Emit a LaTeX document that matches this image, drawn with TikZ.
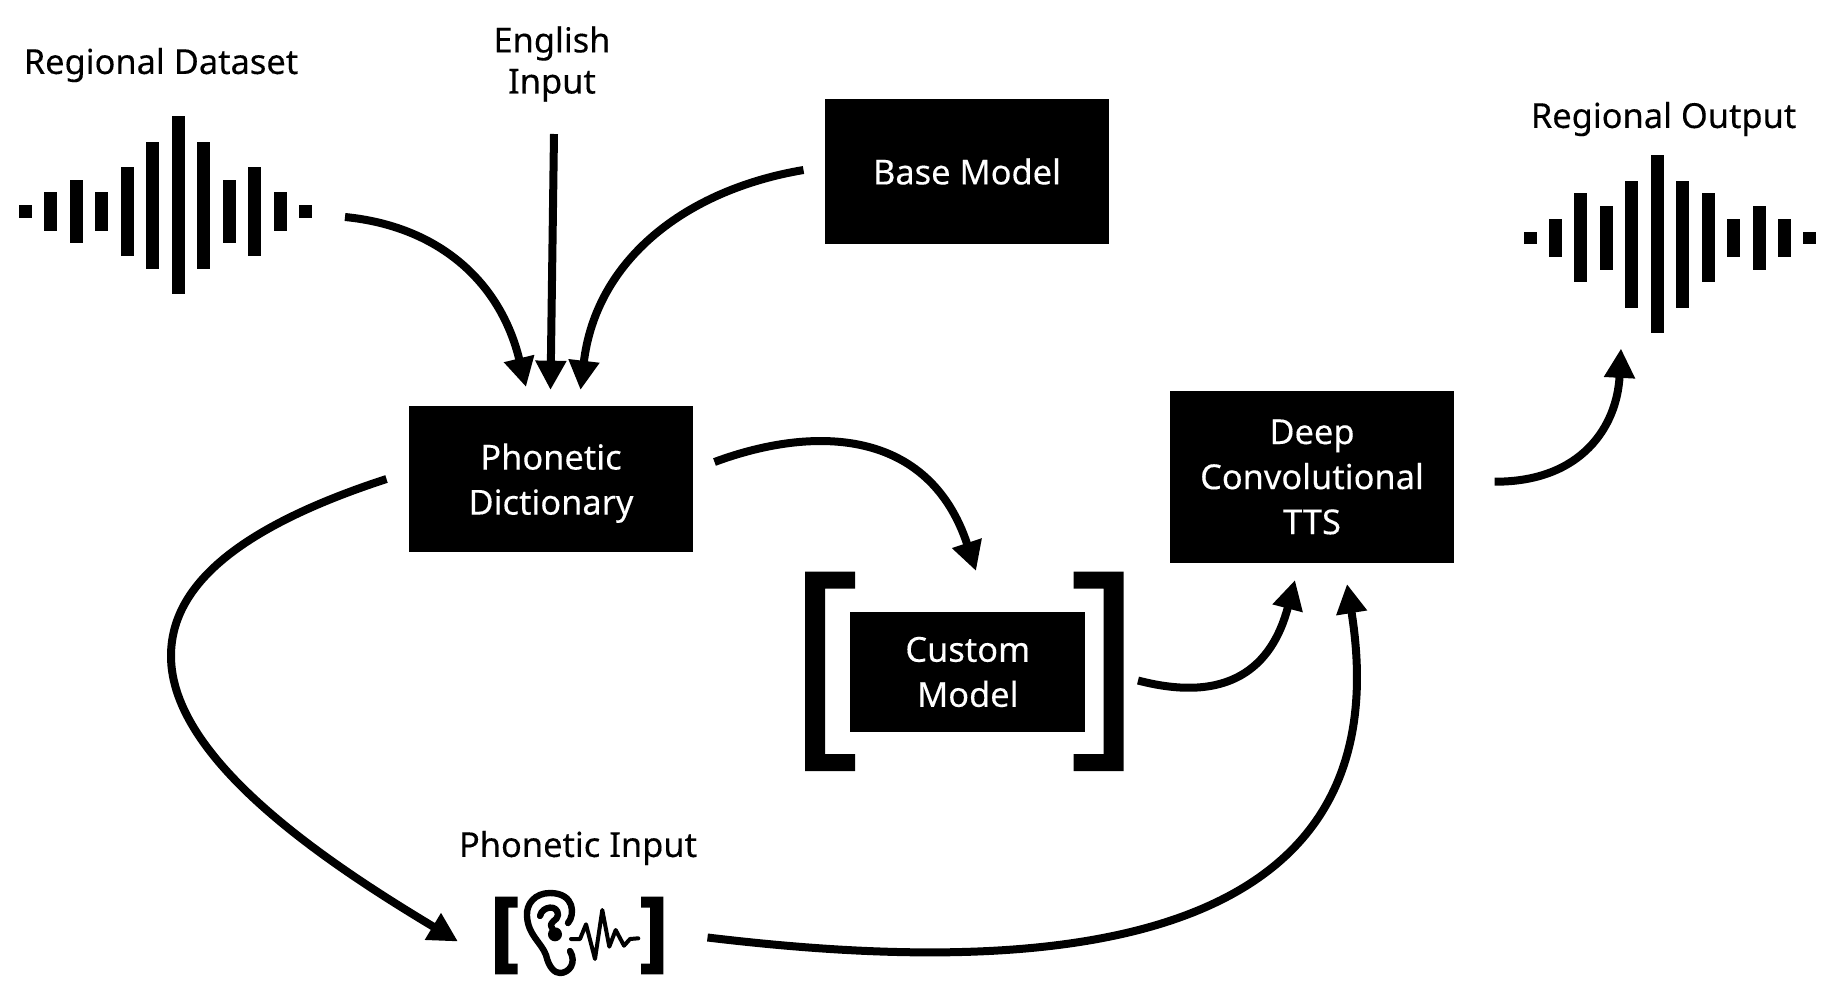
\documentclass[tikz,border=0pt]{standalone}
\usepackage{fontspec}
\setmainfont[FakeBold=0.25]{Noto Sans}
\usetikzlibrary{arrows.meta}
\newcommand{\lbl}{\fontsize{25.8}{33.8}\selectfont}
\tikzset{
  x=0.75pt,y=-0.75pt,
  box/.style={fill=black,text=white,inner sep=0pt,align=center,font=\lbl},
  lab/.style={text=black,inner sep=0pt,align=center,font=\lbl},
  conn/.style={line width=6pt,-{Triangle[length=22pt,width=22pt]}},
  earline/.style={line width=4.8pt,line cap=round,line join=round},
  pulse/.style={line width=3pt,line cap=round,line join=round},
}
\newcommand{\wavebars}[4]{% x0,pitch,width,top/bottom pairs
  \foreach \ya/\yb [count=\ii from 0] in {#4}{
    \fill ({#1+\ii*#2},\ya) rectangle ({#1+\ii*#2+#3},\yb);
  }}
\begin{document}
\begin{tikzpicture}
\useasboundingbox (0,0) rectangle (1828,1003);
\fill[white] (0,0) rectangle (1828,1003);
% boxes
\node[box,minimum width=213.5pt,minimum height=109pt] (base) at (967,171.5) {Base Model};
\node[box,minimum width=213pt,minimum height=109.5pt,text depth=0pt] (dict) at (551,479) {Phonetic\\Dictionary};
\node[box,minimum width=213.5pt,minimum height=129pt] (tts) at (1312,477) {Deep\\Convolutional\\TTS};
\node[box,minimum width=176pt,minimum height=90pt] (custom) at (967.8,672) {Custom\\Model};
% labels
\node[lab] (ds) at (161,65) {Regional Dataset};
\node[lab,font=\fontsize{25.8}{30.8}\selectfont] (en) at (552,64) {English\\Input};
\node[lab] (out) at (1663.6,119) {Regional Output};
\node[lab] (pi) at (578,848) {Phonetic Input};
% waveforms
\wavebars{19}{25.45}{13}{205.3/218.3,192.3/231,180/243.3,192.3/231,167/256.3,141.7/269,116.3/294.3,141.7/269,180/243.3,167/256.3,192.3/231,205.3/218.3}
\wavebars{1523.5}{25.45}{13}{231.7/244.3,219/257,193.3/282.3,206.3/269.7,180.7/308,155.3/333.3,180.7/308,193.3/282.3,219/257,206.3/269.7,219/257,231.7/244.3}
% custom model brackets
\fill (805,571.7) -- (855,571.7) -- (855,588.5) -- (825,588.5) -- (825,754) -- (855,754) -- (855,771) -- (805,771) -- cycle;
\fill (1123.5,571.7) -- (1073.5,571.7) -- (1073.5,588.5) -- (1103.5,588.5) -- (1103.5,754) -- (1073.5,754) -- (1073.5,771) -- (1123.5,771) -- cycle;
% icon brackets
\fill (495,896.7) -- (517.7,896.7) -- (517.7,907.5) -- (508.3,907.5) -- (508.3,963.5) -- (517.7,963.5) -- (517.7,974.3) -- (495,974.3) -- cycle;
\fill (663.3,896.7) -- (641,896.7) -- (641,907.5) -- (650,907.5) -- (650,963.5) -- (641,963.5) -- (641,974.3) -- (663.3,974.3) -- cycle;
% ear
\draw[earline] (568,923) .. controls (575,915) and (575,893) .. (550,893) .. controls (535,893) and (526,904) .. (527,916) .. controls (528,935) and (541,942) .. (546,955) .. controls (549,968) and (555,973) .. (560,973) .. controls (569,973) and (577,963) .. (570,951);
\draw[earline] (540,916) .. controls (542,906) and (558,904) .. (558,915) .. controls (558,921) and (548,921) .. (552,928);
\fill (555,934.3) circle (7);
% pulse
\draw[pulse] (571,939) -- (580,939) -- (586,924.3) -- (595,959) -- (602.3,910) -- (609.3,946.7) -- (615.7,930) -- (624,945.7) -- (630,939) -- (638.3,938.3);
% connectors
\coordinate (a1s) at (345,217);   \coordinate (a1e) at (526,387);
\coordinate (a2s) at (554,134);   \coordinate (a2e) at (550.5,390);
\coordinate (a3s) at (803.5,170); \coordinate (a3e) at (580.5,390);
\coordinate (a4s) at (714.5,462); \coordinate (a4e) at (976,571);
\coordinate (a5s) at (1138,680.5);\coordinate (a5e) at (1295,580);
\coordinate (a6s) at (707.5,937.5);\coordinate (a6e) at (1347,584);
\coordinate (a7s) at (1494.6,481.7);\coordinate (a7e) at (1621,348.5);
\coordinate (a8s) at (386.5,479); \coordinate (a8e) at (458,941.5);
\draw[conn] (a1s) .. controls (437,226) and (500,280) .. (a1e);
\draw[conn] (a2s) -- (a2e);
\draw[conn] (a3s) .. controls (685,190) and (596,260) .. (a3e);
\draw[conn] (a4s) .. controls (814,425) and (929,428) .. (a4e);
\draw[conn] (a5s) .. controls (1228,704) and (1272,668) .. (a5e);
\draw[conn] (a6s) .. controls (996,972) and (1410,976) .. (a6e);
\draw[conn] (a7s) .. controls (1582,482) and (1617,426) .. (a7e);
\draw[conn] (a8s) .. controls (230,530) and (171,590) .. (171,656) .. controls (171,760) and (329,864) .. (a8e);
\end{tikzpicture}
\end{document}
